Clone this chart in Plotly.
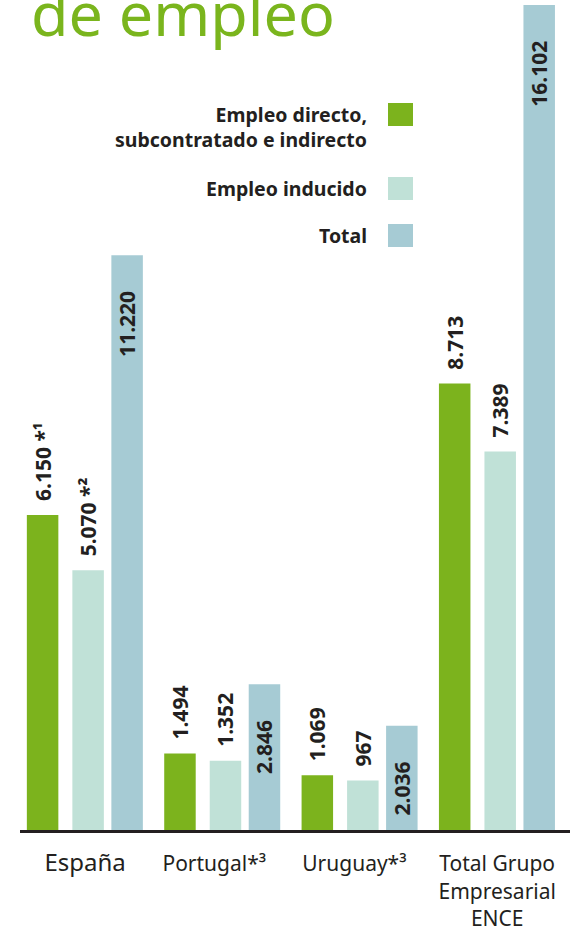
import plotly.graph_objects as go

# ---------------- data ----------------
categories = ["España", "Portugal", "Uruguay", "Total Grupo Empresarial ENCE"]
tick_labels = ["<span style='font-size:24px'>España</span>", "Portugal*³\u00a0\u00a0\u00a0",
               "Uruguay*³\u00a0\u00a0", "Total Grupo<br>Empresarial<br>ENCE"]
series_names = ["Empleo directo,<br>subcontratado e indirecto", "Empleo inducido", "Total"]
empleo_directo = [6150, 1494, 1069, 8713]
empleo_inducido = [5070, 1352, 967, 7389]
empleo_total = [11220, 2846, 2036, 16102]
notes_directo = [" *¹", "", "", ""]
notes_inducido = [" *²", "", "", ""]
notes_total = ["", "", "", ""]
title_text = "de empleo"

# ---------------- style ----------------
colors = ["#7cb31d", "#c0e1d7", "#a6cbd4"]
text_color = "#231f20"
font_family = "Noto Sans"
W, H = 575, 936
ML, MR, MT, MB = 20, 5, 0, 106
PW, PH = W - ML - MR, H - MT - MB


def px_x(p):
    return (p - ML) / PW


def px_y(p):
    return 1 - (p - MT) / PH


def fmt(v):
    return f"{v:,}".replace(",", ".")


NB = "\u00a0"
series = [
    (empleo_directo, notes_directo, "outside", -0.4241),
    (empleo_inducido, notes_inducido, "outside", -0.0928),
    (empleo_total, notes_total, "inside", 0.1911),
]

fig = go.Figure()
for i, (vals, notes, pos, off) in enumerate(series):
    if pos == "outside":
        texts = [NB * 2 + fmt(v) + n for v, n in zip(vals, notes)]
    else:
        texts = [fmt(v) + n + NB * 6 for v, n in zip(vals, notes)]
    fig.add_trace(go.Bar(
        x=categories, y=vals, name=series_names[i],
        marker=dict(color=colors[i], line=dict(width=0)),
        width=0.2293, offset=off,
        text=texts, textposition=pos, textangle=-90,
        insidetextanchor="end", constraintext="none", cliponaxis=False,
        textfont=dict(family=font_family, size=21, color=text_color, weight="bold"),
        showlegend=False, hoverinfo="skip",
    ))

# legend drawn as text + swatches on the right side
legend_items = [
    (series_names[0], 99, "top", 103, 126),
    (series_names[1], 188.5, "middle", 177, 200),
    (series_names[2], 235.5, "middle", 224, 247),
]
annotations = []
shapes = []
for i, (name, ty, anchor, s0, s1) in enumerate(legend_items):
    annotations.append(dict(
        text=name, xref="paper", yref="paper", x=px_x(369), y=px_y(ty),
        xanchor="right", yanchor=anchor, align="right", showarrow=False,
        font=dict(family=font_family, size=19.5, color=text_color, weight="bold"),
    ))
    shapes.append(dict(
        type="rect", xref="paper", yref="paper",
        x0=px_x(388), x1=px_x(413), y0=px_y(s1), y1=px_y(s0),
        fillcolor=colors[i], line=dict(width=0), layer="above",
    ))

annotations.append(dict(
    text=title_text, xref="paper", yref="paper", x=px_x(29), y=1,
    xanchor="left", yanchor="top", yshift=31, showarrow=False,
    font=dict(family=font_family, size=61, color="#7ab51d"),
))

fig.update_layout(
    width=W, height=H,
    margin=dict(l=ML, r=MR, t=MT, b=MB, pad=0),
    paper_bgcolor="white", plot_bgcolor="white",
    barmode="overlay",
    annotations=annotations, shapes=shapes,
    font=dict(family=font_family, color=text_color),
    xaxis=dict(
        type="category", categoryarray=categories,
        tickvals=categories, ticktext=tick_labels,
        range=[-0.474, 3.530],
        showline=True, linecolor=text_color, linewidth=3,
        showgrid=False, zeroline=False, ticks="",
        ticklabelstandoff=13,
        tickfont=dict(family=font_family, size=21, color=text_color),
        fixedrange=True,
    ),
    yaxis=dict(
        range=[0, 16200], visible=False, showgrid=False, zeroline=False,
        fixedrange=True,
    ),
)

fig.write_html("out.html", config={"displayModeBar": False},
               post_script="document.body.style.margin='0';")
